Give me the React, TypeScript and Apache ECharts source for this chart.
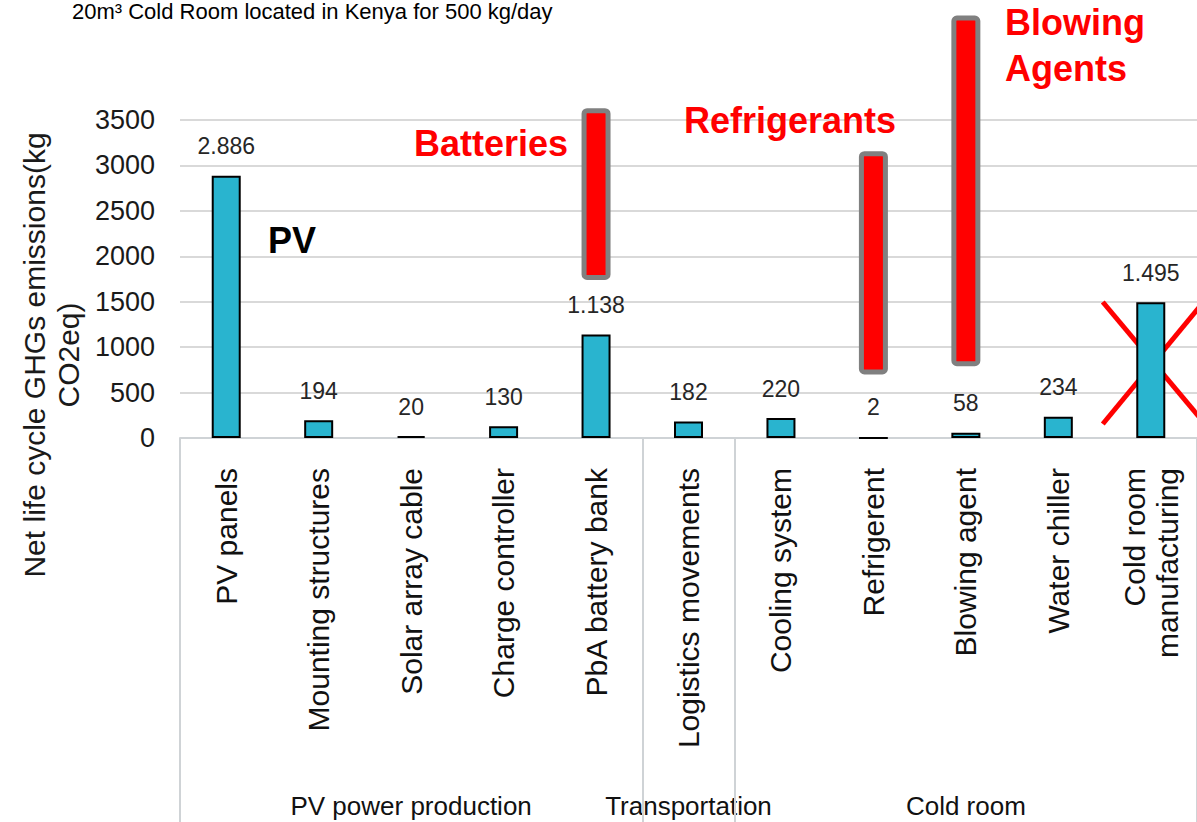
import React, { useEffect, useRef } from "react";
import * as echarts from "echarts";

const categories = [
  "PV panels",
  "Mounting structures",
  "Solar array cable",
  "Charge controller",
  "PbA battery bank",
  "Logistics movements",
  "Cooling system",
  "Refrigerent",
  "Blowing agent",
  "Water chiller",
  "Cold room\nmanufacturing",
];
const emissions = [2886, 194, 20, 130, 1138, 182, 220, 2, 58, 234, 1495];
// floating red highlight bars: invisible base + visible span
const highlightBase = [null, null, null, null, 1740, null, null, 700, 790, null, null];
const highlightSpan = [null, null, null, null, 1890, null, null, 2457, 3860, null, null];
const yMin = 0;
const yMax = 3500;
const yStep = 500;

const groupNames = ["PV power production", "Transportation", "Cold room"];
const groupFrom = [0, 5, 6];
const groupTo = [4, 5, 10];

const annotationTexts = ["PV", "Batteries", "Refrigerants", "Blowing\nAgents"];
const titleText = "20m³ Cold Room located in Kenya for 500 kg/day";
const yAxisTitle = "Net life cycle GHGs emissions(kg\nCO2eq)";

const FONT = "'Liberation Sans', Arial, sans-serif";

function fmt(v: number): string {
  if (v >= 1000) {
    return Math.floor(v / 1000) + "." + String(v % 1000).padStart(3, "0");
  }
  return String(v);
}

export default function App() {
  const ref = useRef<HTMLDivElement>(null);
  useEffect(() => {
    if (!ref.current) return;
    const chart = echarts.init(ref.current, null, { renderer: "svg" });
    const option: any = {
      animation: false,
      backgroundColor: "#ffffff",
      grid: { left: 180, right: -6, top: 120, bottom: 384, containLabel: false },
      xAxis: {
        type: "category",
        data: categories,
        axisLine: { show: true, lineStyle: { color: "#cfd3d6", width: 2 } },
        axisTick: {
          show: true,
          length: 390,
          inside: false,
          interval: (i: number) => i === 0 || i === 5 || i === 6,
          lineStyle: { color: "#cfd3d6", width: 2 },
        },
        axisLabel: {
          interval: 0,
          rotate: 90,
          margin: 30,
          fontSize: 30,
          lineHeight: 33,
          color: "#111111",
          fontFamily: FONT,
        },
      },
      yAxis: {
        type: "value",
        min: yMin,
        max: yMax,
        interval: yStep,
        axisLine: { show: false },
        axisTick: { show: false },
        axisLabel: {
          fontSize: 27,
          color: "#1a1a1a",
          margin: 25,
          fontFamily: FONT,
          formatter: (v: number) => String(v),
        },
        splitLine: { lineStyle: { color: "#d9d9d9", width: 2 } },
      },
      series: [
        {
          type: "bar",
          data: emissions,
          barWidth: 29,
          barGap: "-100%",
          itemStyle: { color: "#29B4CF", borderColor: "#000000", borderWidth: 2 },
          label: {
            show: true,
            position: "top",
            distance: 18,
            fontSize: 23,
            color: "#262626",
            fontFamily: FONT,
            formatter: (p: any) => fmt(p.value),
          },
        },
        {
          type: "bar",
          stack: "hl",
          data: highlightBase,
          barWidth: 29,
          barGap: "-100%",
          itemStyle: { color: "rgba(0,0,0,0)" },
          silent: true,
        },
        {
          type: "bar",
          stack: "hl",
          data: highlightSpan,
          barWidth: 29,
          barGap: "-100%",
          clip: false,
          itemStyle: {
            color: "#ff0000",
            borderColor: "#808080",
            borderWidth: 5,
            borderRadius: 3,
          },
        },
      ],
    };
    chart.setOption(option);

    const px = (i: number, v: number) =>
      chart.convertToPixel({ xAxisIndex: 0, yAxisIndex: 0 }, [i, v]) as number[];

    const graphics: any[] = [];
    // title
    graphics.push({
      type: "text",
      left: 72,
      top: 0,
      style: { text: titleText, fontSize: 22, fill: "#000", fontFamily: FONT },
    });
    // y axis title
    graphics.push({
      type: "text",
      x: 51,
      y: 355,
      rotation: Math.PI / 2,
      style: {
        text: yAxisTitle,
        fontSize: 30,
        lineHeight: 34,
        fill: "#1a1a1a",
        fontFamily: FONT,
        align: "center",
        verticalAlign: "middle",
      },
    });
    // group labels
    for (let g = 0; g < groupNames.length; g++) {
      const a = px(groupFrom[g], 0);
      const b = px(groupTo[g], 0);
      graphics.push({
        type: "text",
        x: (a[0] + b[0]) / 2,
        y: 806,
        style: {
          text: groupNames[g],
          fontSize: 26,
          fill: "#111",
          fontFamily: FONT,
          align: "center",
          verticalAlign: "middle",
        },
      });
    }
    // annotation texts
    const annX = [268, 414, 684, 1005];
    const annY = [240, 143, 120, 45];
    for (let k = 0; k < annotationTexts.length; k++) {
      graphics.push({
        type: "text",
        x: annX[k],
        y: annY[k],
        style: {
          text: annotationTexts[k],
          fontSize: 36,
          lineHeight: 46,
          fontWeight: "bold",
          fill: k === 0 ? "#000" : "#ff0000",
          fontFamily: FONT,
          align: "left",
          verticalAlign: "middle",
        },
      });
    }
    // red cross over cold room manufacturing
    const c = px(10, 0);
    const cx = c[0];
    const base = c[1];
    graphics.push({
      type: "line",
      shape: { x1: cx - 48, y1: base - 136, x2: cx + 56, y2: base - 12 },
      style: { stroke: "#ff0000", lineWidth: 5 },
    });
    graphics.push({
      type: "line",
      shape: { x1: cx - 48, y1: base - 14, x2: cx + 56, y2: base - 140 },
      style: { stroke: "#ff0000", lineWidth: 5 },
    });
    chart.setOption({ graphic: graphics });

    return () => chart.dispose();
  }, []);
  return (
    <div
      ref={ref}
      style={{ position: "absolute", left: 0, top: 0, width: 1197, height: 822 }}
    />
  );
}
